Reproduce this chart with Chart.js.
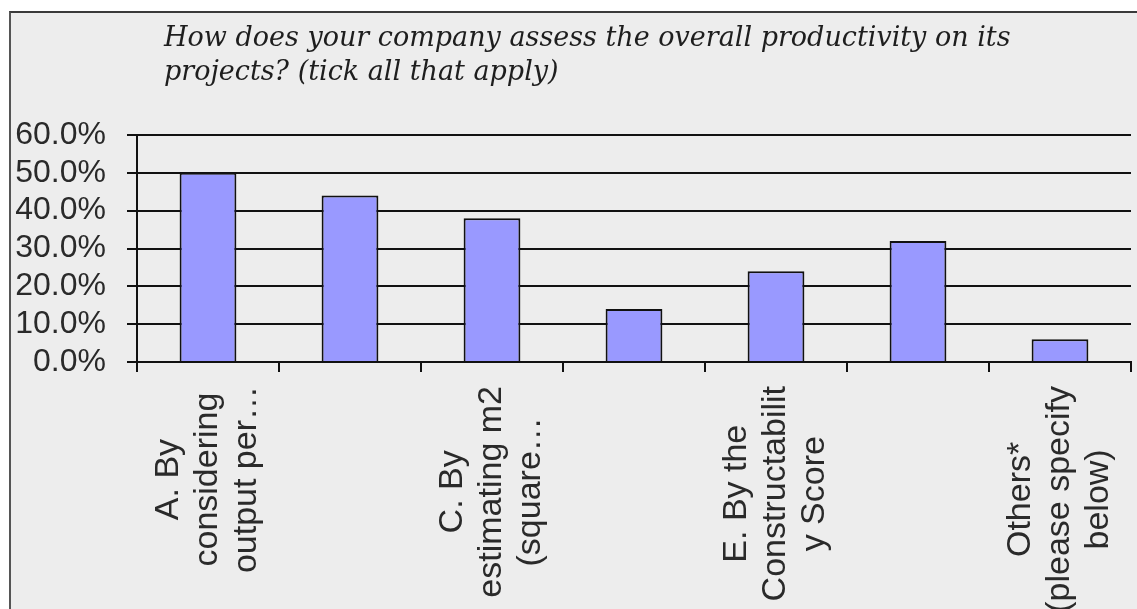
<!DOCTYPE html>
<html>
<head>
<meta charset="utf-8">
<script src="https://cdn.jsdelivr.net/npm/chart.js@4/dist/chart.umd.min.js"></script>
<style>
    html, body { margin: 0; padding: 0; background: #ffffff; }
    body { width: 1137px; height: 609px; position: relative; overflow: hidden; }
    /* Grey panel with the dark top and left edges */
    #frame {
        position: absolute; left: 9px; top: 11px; right: 0; bottom: 0;
        background: #ededed;
        border-left: 2px solid #555;
        border-top: 2px solid #3a3a3a;
    }
    #chart { position: absolute; left: 0; top: 0; }
</style>
</head>
<body>
<div id="frame"></div>
<canvas id="chart" width="1137" height="609"></canvas>
<script>
// Title lines (drawn left aligned, italic serif)
const titleLines = [
    "How does your company assess the overall productivity on its",
    "projects? (tick all that apply)"
];

// Category labels, one entry per bar, split into the wrapped lines
const categories = [
    ["A. By", "considering", "output per…"],
    ["B. …"],
    ["C. By", "estimating m2", "(square…"],
    ["D. …"],
    ["E. By the", "Constructabilit", "y Score"],
    ["F. …"],
    ["Others*", "(please specify", "below)"]
];

// Share of answers for each category (percent)
const shares = [50, 44, 38, 14, 24, 32, 6];

// Y axis range and step (percent)
const yMin = 0;
const yMax = 60;
const yStep = 10;

const labelFont = '34px "Liberation Sans", Arial, sans-serif';

// Draws the title text above the plot
const titlePlugin = {
    id: "titleText",
    afterDraw(chart) {
        const ctx = chart.ctx;
        ctx.save();
        ctx.font = 'italic 27px "DejaVu Serif", serif';
        ctx.fillStyle = "#1e1e1e";
        ctx.textAlign = "left";
        ctx.textBaseline = "alphabetic";
        ctx.fillText(titleLines[0], 164, 46);
        ctx.fillText(titleLines[1], 164, 80);
        ctx.restore();
    }
};

// Draws rotated, centred multi-line category labels (every other one, like Excel skips them)
const xLabelPlugin = {
    id: "xLabels",
    afterDraw(chart) {
        const ctx = chart.ctx;
        const xScale = chart.scales.x;
        const top = chart.chartArea.bottom + 24; // gap below the axis
        const lineH = 39;
        ctx.save();
        ctx.font = labelFont;
        ctx.fillStyle = "#2a2a2a";
        categories.forEach((lines, i) => {
            if (i % 2 === 1) return; // hidden labels
            const x = xScale.getPixelForValue(i);
            const maxW = Math.max(...lines.map(l => ctx.measureText(l).width));
            ctx.save();
            ctx.translate(x, top + maxW / 2);
            ctx.rotate(-Math.PI / 2);
            ctx.textAlign = "center";
            ctx.textBaseline = "middle";
            lines.forEach((line, j) => {
                ctx.fillText(line, 0, (j - (lines.length - 1) / 2) * lineH);
            });
            ctx.restore();
        });
        ctx.restore();
    }
};

const ctx = document.getElementById("chart").getContext("2d");
const chart = new Chart(ctx, {
    type: "bar",
    data: {
        labels: categories,
        datasets: [{
            data: shares,
            backgroundColor: "#9999ff",
            borderColor: "#111",
            borderWidth: 2,
            categoryPercentage: 1,
            barPercentage: 0.4
        }]
    },
    options: {
        responsive: false,
        animation: false,
        layout: {
            padding: { top: 135, right: 6, bottom: 0, left: 0 }
        },
        plugins: {
            legend: { display: false },
            tooltip: { enabled: false },
            title: { display: false }
        },
        scales: {
            x: {
                grid: {
                    display: true,
                    offset: true,
                    drawOnChartArea: false,
                    drawTicks: true,
                    tickLength: 10,
                    color: "#111",
                    lineWidth: 2
                },
                border: { display: true, color: "#111", width: 2 },
                ticks: { display: false },
                afterFit(scale) {
                    scale.height = 247; // room for the rotated labels
                }
            },
            y: {
                min: yMin,
                max: yMax,
                grid: {
                    color: "#111",
                    lineWidth: 2,
                    tickLength: 10
                },
                border: { display: true, color: "#111", width: 2 },
                ticks: {
                    stepSize: yStep,
                    autoSkip: false,
                    padding: 21,
                    color: "#2a2a2a",
                    font: { family: '"Liberation Sans", Arial, sans-serif', size: 32 },
                    callback: v => v.toFixed(1) + "%"
                },
                afterFit(scale) {
                    scale.width = 137;
                }
            }
        }
    },
    plugins: [titlePlugin, xLabelPlugin]
});
</script>
</body>
</html>
